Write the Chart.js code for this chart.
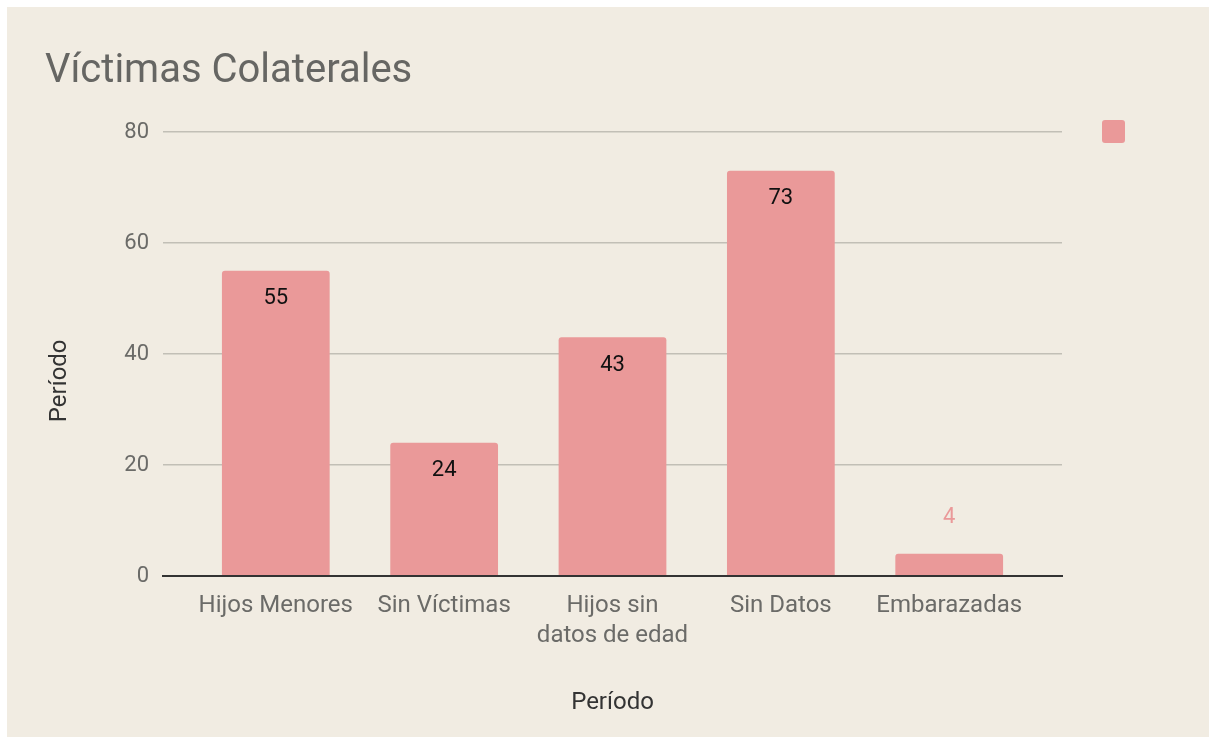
<!DOCTYPE html>
<html>
<head>
<meta charset="utf-8">
<script src="https://cdn.jsdelivr.net/npm/chart.js@4/dist/chart.umd.min.js"></script>
<style>
  body { margin: 0; background: #ffffff; }
  #wrap { position: absolute; left: 7px; top: 7px; width: 1202px; height: 730px; background: #f1ece2; }
</style>
</head>
<body>
<div id="wrap"><canvas id="chart"></canvas></div>
<script>
// Data
var categories = ['Hijos Menores', 'Sin Víctimas', ['Hijos sin', 'datos de edad'], 'Sin Datos', 'Embarazadas'];
var values = [55, 24, 43, 73, 4];
var yTicks = [0, 20, 40, 60, 80];

var barColor = '#ea9999';
var font = 'Roboto';

// bars sit on a linear x axis (index per category) so the outer margin can be set
var points = values.map(function(v, i) { return { x: i, y: v }; });
var xMargin = 0.67; // half a category plus the extra side space

// Writes the value of each bar, inside the top when it fits, above it when not
var barLabels = {
    id: 'barLabels',
    afterDatasetsDraw: function(chart) {
        var ctx = chart.ctx;
        var meta = chart.getDatasetMeta(0);
        ctx.save();
        ctx.font = '22px ' + font;
        ctx.textAlign = 'center';
        ctx.textBaseline = 'middle';
        meta.data.forEach(function(bar, i) {
            var h = bar.base - bar.y;
            if (h > 50) {
                ctx.fillStyle = '#111111';
                ctx.fillText(values[i], bar.x, bar.y + 28);
            } else {
                ctx.fillStyle = barColor;
                ctx.fillText(values[i], bar.x, bar.y - 36);
            }
        });
        ctx.restore();
    }
};

new Chart(document.getElementById('chart'), {
    type: 'bar',
    data: {
        datasets: [{
            label: '',
            data: points,
            backgroundColor: barColor,
            borderRadius: 3,
            barPercentage: 0.64,
            categoryPercentage: 1
        }]
    },
    options: {
        responsive: true,
        maintainAspectRatio: false,
        animation: false,
        layout: { padding: { left: 38, right: 64, top: 0, bottom: 0 } },
        plugins: {
            title: {
                display: true,
                text: 'Víctimas Colaterales',
                align: 'start',
                color: '#666663',
                font: { family: font, size: 40, weight: 'normal', lineHeight: 1.2 },
                padding: { top: 41, bottom: 36 }
            },
            legend: {
                position: 'right',
                align: 'start',
                title: { display: true, text: '', font: { size: 73, lineHeight: 1 }, padding: 0 },
                labels: {
                    boxWidth: 23,
                    boxHeight: 23,
                    padding: 40,
                    useBorderRadius: true,
                    borderRadius: 3,
                    font: { family: font, size: 20 }
                }
            },
            tooltip: { enabled: false }
        },
        scales: {
            x: {
                type: 'linear',
                offset: false,
                min: -xMargin,
                max: categories.length - 1 + xMargin,
                grid: { display: false, drawTicks: false },
                border: { display: true, color: '#333333', width: 2 },
                afterBuildTicks: function(scale) {
                    scale.ticks = categories.map(function(c, i) { return { value: i }; });
                },
                ticks: {
                    color: '#6b6b68',
                    padding: 15,
                    maxRotation: 0,
                    autoSkip: false,
                    font: { family: font, size: 24, lineHeight: 1.25 },
                    callback: function(v) { return categories[v]; }
                },
                title: { display: true, text: 'Período', color: '#333333', font: { family: font, size: 24, lineHeight: 1.2 }, padding: { top: 0, bottom: 20 } },
                afterFit: function(scale) { scale.height = 161; }
            },
            y: {
                min: yTicks[0],
                max: yTicks[yTicks.length - 1],
                grid: {
                    drawTicks: false,
                    color: function(c) { return c.tick && c.tick.value === 0 ? '#333333' : '#c2bfb6'; },
                    lineWidth: function(c) { return c.tick && c.tick.value === 0 ? 2 : 1.5; }
                },
                border: { display: false },
                afterBuildTicks: function(scale) {
                    scale.ticks = yTicks.map(function(v) { return { value: v }; });
                },
                ticks: {
                    color: '#6b6b68',
                    padding: 14,
                    font: { family: font, size: 22 }
                },
                // trailing spaces push the visible word lower along the axis, as in the original
                title: { display: true, text: 'Período         ', color: '#333333', font: { family: font, size: 24, lineHeight: 1.2 }, padding: { top: 1, bottom: 0 } },
                afterFit: function(scale) { scale.width = 118; }
            }
        }
    },
    plugins: [barLabels]
});
</script>
</body>
</html>
